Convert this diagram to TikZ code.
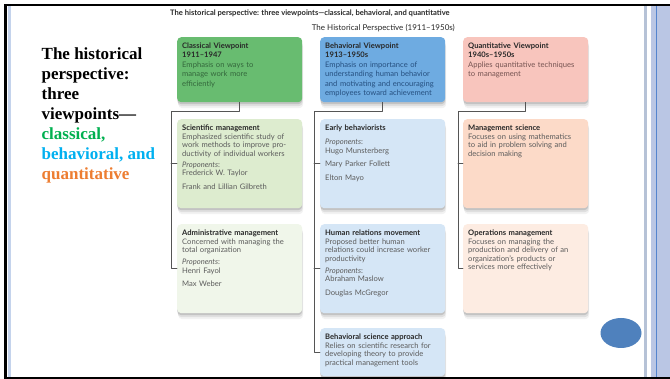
\documentclass[tikz,border=0pt]{standalone}
\usepackage{fontspec}
\setmainfont{Liberation Serif}
\newfontfamily\lato{Lato}
\usetikzlibrary{shadows}

\definecolor{clsgreen}{RGB}{0,176,80}
\definecolor{bhvcyan}{RGB}{0,176,240}
\definecolor{qntorange}{RGB}{237,125,49}
\definecolor{clsfill}{RGB}{104,188,112}
\definecolor{bhvfill}{RGB}{110,171,225}
\definecolor{qntfill}{RGB}{248,197,189}
\definecolor{clsbody}{RGB}{52,104,60}
\definecolor{bhvbody}{RGB}{38,80,128}
\definecolor{qntbody}{RGB}{118,84,82}
\definecolor{scifill}{RGB}{221,236,207}
\definecolor{admfill}{RGB}{240,246,234}
\definecolor{lblue}{RGB}{213,230,246}
\definecolor{mgmtfill}{RGB}{252,218,200}
\definecolor{opsfill}{RGB}{253,236,226}
\definecolor{titlegray}{RGB}{40,40,40}
\definecolor{bodygray}{RGB}{92,92,92}
\definecolor{linkgray}{RGB}{85,85,85}
\definecolor{railblue}{RGB}{196,211,236}
\definecolor{bandblue}{RGB}{186,198,228}
\definecolor{bandline}{RGB}{84,132,206}
\definecolor{dotblue}{RGB}{79,129,189}

\begin{document}
\begin{tikzpicture}[x=1pt,y=-1pt,line cap=round,line join=round,
 soft shadow/.style={
  drop shadow={shadow xshift=0pt,shadow yshift=-2pt,opacity=.12,fill=black},
  drop shadow={shadow xshift=.5pt,shadow yshift=-4pt,opacity=.08,fill=black},
  drop shadow={shadow xshift=1pt,shadow yshift=-6pt,opacity=.05,fill=black}},
 card/.style={anchor=north west,rounded corners=4pt,inner xsep=5pt,inner ysep=5pt,
  text width=115pt,align=left,text height=6.5pt,text depth=72.5pt,text=titlegray,
  font=\lato\fontsize{7.6}{8.5}\selectfont,soft shadow},
 view/.style={card,text depth=48.5pt,font=\lato\fontsize{7.6}{9.2}\selectfont},
 link/.style={draw=linkgray,line width=.7pt}]
\useasboundingbox (0,0) rectangle (670,379);
\fill[white] (0,0) rectangle (670,379);

\node[anchor=north west,inner sep=0,align=left,
 font=\bfseries\fontsize{17}{20}\selectfont] (heading) at (41.5,47.3)
 {The historical\\perspective:\\three\\viewpoints—\\
 \textcolor{clsgreen}{classical,}\\\textcolor{bhvcyan}{behavioral, and}\\
 \textcolor{qntorange}{quantitative}};

\node[anchor=base west,inner sep=0,text=titlegray,
 font=\lato\bfseries\fontsize{7.6}{9}\selectfont] (caption) at (170,16)
 {The historical perspective: three viewpoints—classical, behavioral, and quantitative};
\node[anchor=base east,inner sep=0,text=titlegray,
 font=\lato\fontsize{8}{9}\selectfont] (period) at (455,31)
 {The Historical Perspective (1911–1950s)};

% viewpoints
\node[view,fill=clsfill] (classical) at (177,37)
 {\textbf{Classical Viewpoint}\\\textbf{1911–1947}\\[.6pt]
 \color{clsbody}Emphasis on ways to\\manage work more\\efficiently};
\node[view,fill=bhvfill] (behavioral) at (320,37)
 {\textbf{Behavioral Viewpoint}\\\textbf{1913–1950s}\\[.6pt]
 \color{bhvbody}Emphasis on importance of\\understanding human behavior\\
 and motivating and encouraging\\employees toward achievement};
\node[view,fill=qntfill] (quant) at (463,37)
 {\textbf{Quantitative Viewpoint}\\\textbf{1940s–1950s}\\[.6pt]
 \color{qntbody}Applies quantitative techniques\\to management};

% schools
\node[card,fill=scifill] (sci) at (177,119)
 {\textbf{Scientific management}\\\color{bodygray}
 Emphasized scientific study of\\work methods to improve pro-\\
 ductivity of individual workers\\[2.5pt]
 \textit{Proponents}:\\Frederick W. Taylor\\[5pt]Frank and Lillian Gilbreth};
\node[card,fill=admfill] (admin) at (177,224)
 {\textbf{Administrative management}\\\color{bodygray}
 Concerned with managing the\\total organization\\[3.5pt]
 \textit{Proponents}:\\Henri Fayol\\[4.5pt]Max Weber};
\node[card,fill=lblue] (early) at (320,119)
 {\textbf{Early behaviorists}\\[5.5pt]\color{bodygray}
 \textit{Proponents}:\\Hugo Munsterberg\\[5pt]Mary Parker Follett\\[5pt]Elton Mayo};
\node[card,fill=lblue] (human) at (320,224)
 {\textbf{Human relations movement}\\\color{bodygray}
 Proposed better human\\relations could increase worker\\productivity\\[3.5pt]
 \textit{Proponents}:\\Abraham Maslow\\[5.5pt]Douglas McGregor};
\node[card,fill=lblue,text depth=31.5pt] (approach) at (320,328)
 {\textbf{Behavioral science approach}\\\color{bodygray}
 Relies on scientific research for\\developing theory to provide\\
 practical management tools};
\node[card,fill=mgmtfill] (mgmt) at (463,119)
 {\textbf{Management science}\\\color{bodygray}
 Focuses on using mathematics\\to aid in problem solving and\\decision making};
\node[card,fill=opsfill] (ops) at (463,224)
 {\textbf{Operations management}\\\color{bodygray}
 Focuses on managing the\\production and delivery of an\\
 organization’s products or\\services more effectively};

% branches
\coordinate (clsbus) at (171,111);
\coordinate (bhvbus) at (314,111);
\coordinate (qntbus) at (458,111);
\foreach \top/\bus/\first/\last in
 {classical/clsbus/sci/admin,behavioral/bhvbus/early/approach,quant/qntbus/mgmt/ops}{
 \draw[link] (\top.south) |- (\bus) |- (\last.west);
 \draw[link] (\bus |- \first.west) -- (\first.west);
}
\draw[link] (bhvbus |- human.west) -- (human.west);

\fill[dotblue] (621,333) ellipse [x radius=20.5,y radius=15];

% slide frame
\fill[railblue] (7.5,6.5) rectangle (11,376.8);
\fill[railblue!80!gray] (644,6.5) rectangle (646.7,376.8);
\fill[bandblue] (651,6.5) rectangle (670,376.8);
\fill[bandline] (655.7,6.5) rectangle (657.2,376.8);
\fill[black] (4,4) rectangle (670,6.5);
\fill[black] (4,4) rectangle (6.5,379);
\fill[black] (4,376.8) rectangle (670,379);
\end{tikzpicture}
\end{document}
